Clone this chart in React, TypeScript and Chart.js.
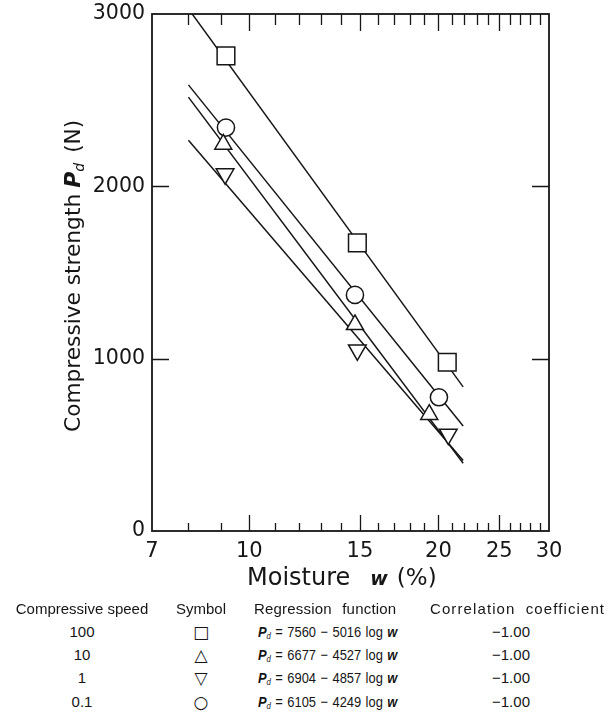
import { useEffect, useRef } from "react";
import { Chart, registerables } from "chart.js";

Chart.register(...registerables);

const INK = "#161616";
const FONT = '"DejaVu Sans", "Liberation Sans", sans-serif';
const TABLE_FONT = '"Liberation Sans", Arial, sans-serif';

// Table rows: compressive speed, symbol, regression Pd = a - b log w, correlation
const SPEEDS = ["100", "10", "1", "0.1"];
const SYMBOLS = ["□", "△", "▽", "○"];
const INTERCEPTS = [7560, 6677, 6904, 6105];
const SLOPES = [5016, 4527, 4857, 4249];
const CORRELATIONS = ["−1.00", "−1.00", "−1.00", "−1.00"];

// Moisture span (%) over which the regression lines are drawn
const LINE_FROM = 8.0;
const LINE_TO = 21.9;

// Measured points: moisture w (%) and compressive strength Pd (N)
const SQUARE_W = [9.18, 14.86, 20.66];
const SQUARE_P = [2757, 1672, 979];
const TRI_UP_W = [9.09, 14.73, 19.34];
const TRI_UP_P = [2244, 1197, 676];
const TRI_DOWN_W = [9.15, 14.86, 20.74];
const TRI_DOWN_P = [2072, 1050, 561];
const CIRCLE_W = [9.18, 14.73, 20.04];
const CIRCLE_P = [2341, 1370, 776];

// Axis ticks
const X_TICKS = [7, 8, 9, 10, 11, 12, 13, 14, 15, 16, 17, 18, 19, 20, 21, 22, 23, 24, 25, 26, 27, 28, 29, 30];
const X_LABELS = [7, 10, 15, 20, 25, 30];
const Y_TICKS = [0, 1000, 2000, 3000];

const POINT_W = [SQUARE_W, TRI_UP_W, TRI_DOWN_W, CIRCLE_W];
const POINT_P = [SQUARE_P, TRI_UP_P, TRI_DOWN_P, CIRCLE_P];
const POINT_STYLE = ["rect", "triangle", "triangle", "circle"];
const POINT_ROTATION = [0, 0, 180, 0];
const POINT_RADIUS = [12.5, 9.8, 10.2, 8.6];

const CANVAS_W = 608;
const CANVAS_H = 600;
const AREA_LEFT = 152;
const AREA_RIGHT = 549;
const AREA_TOP = 12;
const AREA_BOTTOM = 531;

function regressionLine(i: number) {
  const at = (w: number) => INTERCEPTS[i] - SLOPES[i] * Math.log10(w);
  return [
    { x: LINE_FROM, y: at(LINE_FROM) },
    { x: LINE_TO, y: at(LINE_TO) },
  ];
}

type Seg = { text: string; font: string; dy?: number; gap?: number };

function drawSegments(ctx: CanvasRenderingContext2D, segs: Seg[], x: number, y: number) {
  let cx = x;
  for (const s of segs) {
    cx += s.gap || 0;
    ctx.font = s.font;
    ctx.fillText(s.text, cx, y + (s.dy || 0));
    cx += ctx.measureText(s.text).width;
  }
}

const framePlugin = {
  id: "frameAndTitles",
  afterDatasetsDraw(chart: any) {
    const { ctx, chartArea, scales } = chart;
    const { left, right, top, bottom } = chartArea;
    const x = scales.x;
    const y = scales.y;
    ctx.save();
    ctx.strokeStyle = INK;
    ctx.lineWidth = 1.8;
    ctx.strokeRect(left, top, right - left, bottom - top);

    ctx.lineWidth = 1.3;
    ctx.beginPath();
    for (const t of x.ticks) {
      if (t.value <= X_TICKS[0] || t.value >= X_TICKS[X_TICKS.length - 1]) continue;
      const px = Math.round(x.getPixelForValue(t.value)) + 0.5;
      const major = X_LABELS.includes(t.value);
      ctx.moveTo(px, bottom);
      ctx.lineTo(px, bottom - (major ? 16 : 8));
      ctx.moveTo(px, top);
      ctx.lineTo(px, top + (major ? 17 : 11));
    }
    for (const t of y.ticks) {
      if (t.value <= Y_TICKS[0] || t.value >= Y_TICKS[Y_TICKS.length - 1]) continue;
      const py = Math.round(y.getPixelForValue(t.value)) + 0.5;
      ctx.moveTo(left, py);
      ctx.lineTo(left + 17, py);
      ctx.moveTo(right, py);
      ctx.lineTo(right - 17, py);
    }
    ctx.stroke();
    ctx.restore();
  },
  afterDraw(chart: any) {
    const { ctx } = chart;
    ctx.save();
    ctx.fillStyle = INK;
    ctx.textBaseline = "alphabetic";
    ctx.textAlign = "left";

    // x-axis title
    drawSegments(
      ctx,
      [
        { text: "Moisture", font: `24px ${FONT}` },
        { text: "w", font: `italic bold 19px ${FONT}`, gap: 20 },
        { text: "(%)", font: `23px ${FONT}`, gap: 9 },
      ],
      247,
      585
    );

    // y-axis title, rotated
    ctx.translate(80, 432);
    ctx.rotate(-Math.PI / 2);
    drawSegments(
      ctx,
      [
        { text: "Compressive strength", font: `21.7px ${FONT}` },
        { text: "P", font: `italic bold 22px ${FONT}`, gap: 6 },
        { text: "d", font: `italic 14px ${FONT}`, dy: 4 },
        { text: "(N)", font: `21.7px ${FONT}`, gap: 10 },
      ],
      0,
      0
    );
    ctx.restore();
  },
};

export default function App() {
  const ref = useRef<HTMLCanvasElement>(null);

  useEffect(() => {
    const lineSets = SPEEDS.map((s, i) => ({
      label: `Pd = ${INTERCEPTS[i]} - ${SLOPES[i]} log w`,
      data: regressionLine(i),
      showLine: true,
      borderColor: INK,
      borderWidth: 1.5,
      pointRadius: 0,
      pointHoverRadius: 0,
      order: 2,
    }));
    const pointSets = SPEEDS.map((s, i) => ({
      label: `${s}`,
      data: POINT_W[i].map((w, k) => ({ x: w, y: POINT_P[i][k] })),
      showLine: false,
      pointStyle: POINT_STYLE[i],
      rotation: POINT_ROTATION[i],
      pointRadius: POINT_RADIUS[i],
      pointBackgroundColor: "#ffffff",
      pointBorderColor: INK,
      pointBorderWidth: 1.5,
      order: 1,
    }));

    const chart = new Chart(ref.current as HTMLCanvasElement, {
      type: "scatter",
      data: { datasets: [...pointSets, ...lineSets] as any },
      options: {
        animation: false,
        responsive: false,
        maintainAspectRatio: false,
        events: [],
        layout: {
          padding: {
            left: 0,
            top: AREA_TOP,
            right: CANVAS_W - AREA_RIGHT,
            bottom: 0,
          },
        },
        plugins: {
          legend: { display: false },
          tooltip: { enabled: false },
        },
        scales: {
          x: {
            type: "logarithmic",
            min: X_TICKS[0],
            max: X_TICKS[X_TICKS.length - 1],
            afterBuildTicks: (s: any) => {
              s.ticks = X_TICKS.map((v) => ({ value: v }));
            },
            afterFit: (s: any) => {
              s.height = CANVAS_H - AREA_BOTTOM;
              s.paddingLeft = 0;
              s.paddingRight = 0;
            },
            grid: { display: false, drawTicks: false },
            border: { display: false },
            ticks: {
              autoSkip: false,
              maxRotation: 0,
              minRotation: 0,
              padding: 8,
              color: INK,
              font: { family: FONT, size: 21 },
              callback: (v: any) => (X_LABELS.includes(Number(v)) ? String(v) : ""),
            },
          },
          y: {
            type: "linear",
            min: Y_TICKS[0],
            max: Y_TICKS[Y_TICKS.length - 1],
            afterBuildTicks: (s: any) => {
              s.ticks = Y_TICKS.map((v) => ({ value: v }));
            },
            afterFit: (s: any) => {
              s.width = AREA_LEFT;
              s.paddingTop = 0;
              s.paddingBottom = 0;
            },
            grid: { display: false, drawTicks: false },
            border: { display: false },
            ticks: {
              padding: 7,
              color: INK,
              font: { family: FONT, size: 20.5 },
              callback: (v: any) => String(v),
            },
          },
        },
      },
      plugins: [framePlugin],
    } as any);
    return () => chart.destroy();
  }, []);

  const rowY = [632, 655, 678, 702];
  const cell = (top: number, extra: any) => ({
    position: "absolute" as const,
    top: top - 10,
    height: 20,
    lineHeight: "20px",
    whiteSpace: "nowrap" as const,
    ...extra,
  });

  return (
    <div
      style={{
        position: "fixed",
        left: 0,
        top: 0,
        width: CANVAS_W,
        height: 717,
        background: "#ffffff",
        color: INK,
        fontFamily: TABLE_FONT,
        fontSize: 15,
        overflow: "hidden",
      }}
    >
      <canvas
        ref={ref}
        width={CANVAS_W}
        height={CANVAS_H}
        style={{ position: "absolute", left: 0, top: 0, width: CANVAS_W, height: CANVAS_H }}
      />
      <div style={cell(609, { left: 2, width: 160, textAlign: "center" })}>Compressive speed</div>
      <div style={cell(609, { left: 161, width: 80, textAlign: "center" })}>Symbol</div>
      <div style={cell(609, { left: 254, wordSpacing: 6, letterSpacing: 0.2 })}>Regression function</div>
      <div style={cell(609, { left: 430, letterSpacing: 1.1, wordSpacing: 5 })}>Correlation coefficient</div>
      {SPEEDS.map((s, i) => (
        <div key={s}>
          <div style={cell(rowY[i], { left: 2, width: 160, textAlign: "center" })}>{s}</div>
          <div style={cell(rowY[i], { left: 161, width: 80, textAlign: "center", fontFamily: FONT, fontSize: 17 })}>
            {SYMBOLS[i]}
          </div>
          <div
            style={cell(rowY[i], {
              left: 258,
              fontSize: 15,
              wordSpacing: 1,
              transform: "scaleX(0.86)",
              transformOrigin: "0 50%",
            })}
          >
            <b style={{ fontStyle: "italic" }}>P</b>
            <sub style={{ fontStyle: "italic", fontSize: 9, verticalAlign: "-2px" }}>d</sub>
            {` = ${INTERCEPTS[i]} − ${SLOPES[i]} log `}
            <b style={{ fontStyle: "italic" }}>w</b>
          </div>
          <div style={cell(rowY[i], { left: 471, width: 80, textAlign: "center" })}>{CORRELATIONS[i]}</div>
        </div>
      ))}
    </div>
  );
}
